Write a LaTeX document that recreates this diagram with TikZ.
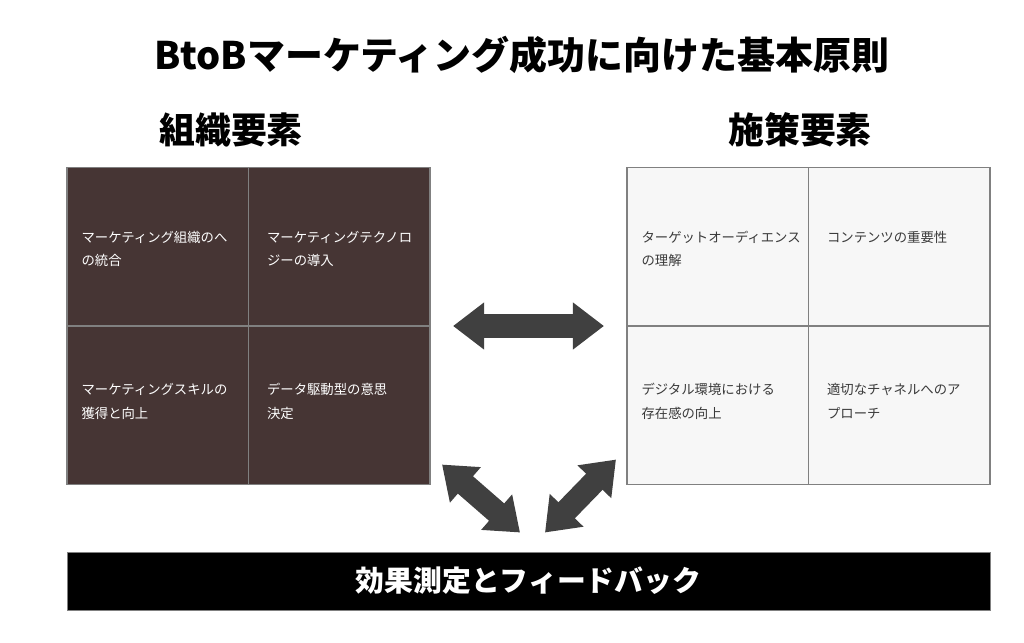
\documentclass[tikz,border=0pt]{standalone}
\usepackage{fontspec}
\setmainfont{Noto Sans CJK JP}
\usetikzlibrary{arrows.meta,positioning,fit}
\newlength\pxu
\setlength\pxu{0.025cm}
\definecolor{orgfill}{HTML}{463534}
\definecolor{gridline}{HTML}{808080}
\definecolor{stratfill}{HTML}{F7F7F7}
\definecolor{arrowgray}{HTML}{404040}
\definecolor{darktext}{HTML}{3A3A3A}
\tikzset{%
    orgcell/.style={%
        rectangle, draw=gridline, line width=1.5\pxu, fill=orgfill, minimum width=181.5\pxu, minimum height=158.5\pxu
    },
    stratcell/.style={%
        orgcell, fill=stratfill
    },
    celltext/.style={%
        inner sep=0pt, align=left, font=\fontsize{9.5}{16.7}\selectfont
    },
    heading/.style={%
        font=\fontsize{25.5}{30}\selectfont\bfseries
    },
    bigarrow/.style={%
        draw=arrowgray, line width=0.575cm, {Triangle[length=0.775cm,width=1.125cm]}-{Triangle[length=0.775cm,width=1.125cm]}
    },
    barbox/.style={%
        rectangle, draw=gridline, line width=1\pxu, fill=black, text=white, minimum width=923\pxu, minimum height=58\pxu, font=\fontsize{20.5}{24}\selectfont\bfseries
    },
}
\begin{document}
\begin{tikzpicture}[x=\pxu, y=-\pxu]
  \useasboundingbox (0,0) rectangle (1024,643);

  \node[font=\fontsize{27}{32}\selectfont\bfseries] (title) at (522,55) {BtoBマーケティング成功に向けた基本原則};
  \node[heading] (orghead) at (231,130) {組織要素};
  \node[heading] (strathead) at (800,130) {施策要素};

  % organisation grid
  \node[orgcell] (org11) at (157.75,246.75) {};
  \node[orgcell] (org12) at (339.25,246.75) {};
  \node[orgcell] (org21) at (157.75,405.25) {};
  \node[orgcell] (org22) at (339.25,405.25) {};
  \node[fit=(org11)(org22), inner sep=0pt] (org) {};
  \node[celltext, text=white, below right=64\pxu and 15\pxu of org11.north west] (orgt11) {マーケティング組織のへ\\の統合};
  \node[celltext, text=white, below right=64\pxu and 19\pxu of org12.north west] (orgt12) {マーケティングテクノロ\\ジーの導入};
  \node[celltext, text=white, below right=58\pxu and 15\pxu of org21.north west] (orgt21) {マーケティングスキルの\\獲得と向上};
  \node[celltext, text=white, below right=58\pxu and 19\pxu of org22.north west] (orgt22) {データ駆動型の意思\\決定};

  % strategy grid
  \node[stratcell] (strat11) at (717.75,246.75) {};
  \node[stratcell] (strat12) at (899.25,246.75) {};
  \node[stratcell] (strat21) at (717.75,405.25) {};
  \node[stratcell] (strat22) at (899.25,405.25) {};
  \node[fit=(strat11)(strat22), inner sep=0pt] (strat) {};
  \node[celltext, text=darktext, below right=64\pxu and 15\pxu of strat11.north west] (stratt11) {ターゲットオーディエンス\\の理解};
  \node[celltext, text=darktext, below right=64\pxu and 19\pxu of strat12.north west] (stratt12) {コンテンツの重要性};
  \node[celltext, text=darktext, below right=58\pxu and 15\pxu of strat21.north west] (stratt21) {デジタル環境における\\存在感の向上};
  \node[celltext, text=darktext, below right=58\pxu and 19\pxu of strat22.north west] (stratt22) {適切なチャネルへのア\\プローチ};

  \node[barbox] (bar) at (528.5,581) {効果測定とフィードバック};

  \draw[bigarrow] ([xshift=22\pxu]org.east) -- ([xshift=-22\pxu]strat.west);
  \draw[bigarrow] ([shift={(11,-21)}]org.south east) -- ([shift={(-8.5,-19)}]bar.north);
  \draw[bigarrow] ([shift={(-10,-26)}]strat.south west) -- ([shift={(16.5,-19)}]bar.north);
\end{tikzpicture}
\end{document}
